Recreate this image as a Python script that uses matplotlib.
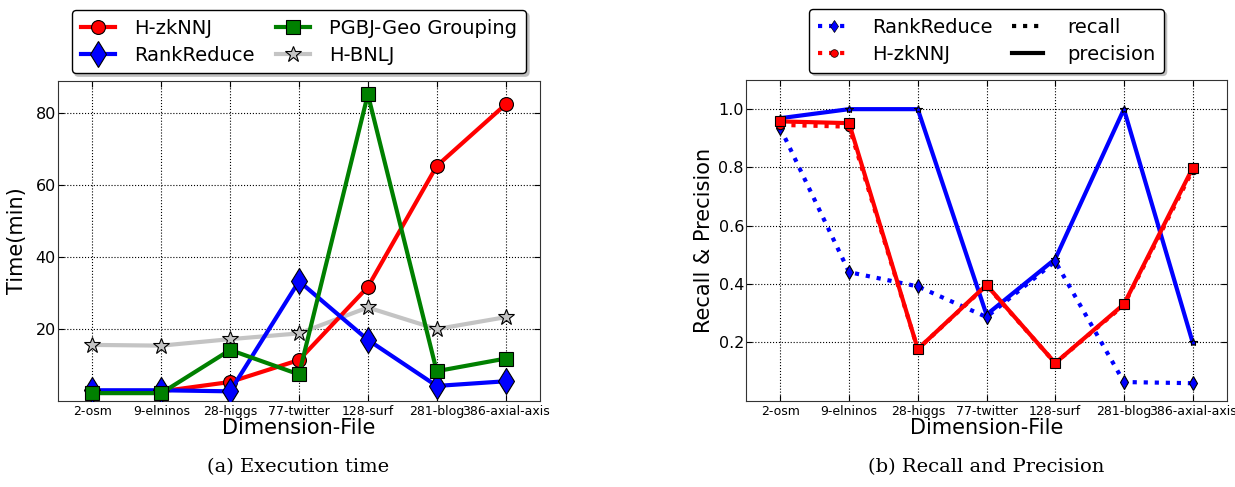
import matplotlib
matplotlib.use("Agg")
import matplotlib.pyplot as plt
from matplotlib.lines import Line2D

categories = ["2-osm", "9-elninos", "28-higgs", "77-twitter", "128-surf", "281-blog", "386-axial-axis"]

# (a) Execution time (min)
time_hzknnj = [2.5, 2.7, 5.3, 11.4, 31.7, 65.3, 82.4]
time_rankreduce = [3.0, 3.0, 2.7, 33.3, 17.0, 4.2, 5.5]
time_pgbj = [2.2, 2.2, 14.2, 7.4, 85.2, 8.3, 11.8]
time_hbnlj = [15.6, 15.4, 17.2, 18.8, 26.0, 20.0, 23.3]

# (b) Recall & Precision
rr_precision = [0.969, 1.0, 1.0, 0.295, 0.486, 1.0, 0.2]
rr_recall = [0.935, 0.441, 0.392, 0.287, 0.478, 0.064, 0.060]
hz_precision = [0.958, 0.952, 0.177, 0.397, 0.129, 0.331, 0.798]
hz_recall = [0.946, 0.940, 0.177, 0.395, 0.129, 0.328, 0.790]

left_yticks = [20, 40, 60, 80]
right_yticks = [0.2, 0.4, 0.6, 0.8, 1.0]

fig = plt.figure(figsize=(12.35, 4.87), dpi=100)
W, H = 1235, 487
ax1 = fig.add_axes([58 / W, 1 - 400.7 / H, (540 - 58) / W, (400.7 - 80.7) / H])
ax2 = fig.add_axes([746 / W, 1 - 400.7 / H, (1227 - 746) / W, (400.7 - 80.0) / H])

x = list(range(len(categories)))

for ax in (ax1, ax2):
    ax.grid(True, color="black", linestyle=":", linewidth=0.8)
    ax.set_axisbelow(True)
    ax.set_xlim(-0.5, 6.5)
    ax.set_xticks(x)
    ax.set_xticklabels(categories, fontsize=9)
    ax.tick_params(axis="y", labelsize=11.5, pad=1.5)
    ax.tick_params(axis="x", pad=3)
    ax.tick_params(top=True, right=True, direction="in", length=4)
    ax.set_xlabel("Dimension-File", fontsize=15, labelpad=0)
    for s in ax.spines.values():
        s.set_color("#333333")

lw = 3
l1, = ax1.plot(x, time_hzknnj, color="red", lw=lw, marker="o", ms=10, mec="black", mew=0.8, label="H-zkNNJ", zorder=3)
l2, = ax1.plot(x, time_rankreduce, color="blue", lw=lw, marker="d", ms=13, mec="black", mew=0.8, label="RankReduce", zorder=4)
l3, = ax1.plot(x, time_pgbj, color="green", lw=lw, marker="s", ms=10.5, mec="black", mew=0.8, label="PGBJ-Geo Grouping", zorder=5)
l4, = ax1.plot(x, time_hbnlj, color="#c4c4c4", lw=lw, marker="*", ms=12, mfc="#c4c4c4", mec="black", mew=0.8, label="H-BNLJ", zorder=2)
ax1.set_ylim(0.1, 89)
ax1.set_yticks(left_yticks)
ax1.set_ylabel("Time(min)", fontsize=15, labelpad=6)
ax1.legend(handles=[l1, l2, l3, l4], ncol=2, loc="lower center", bbox_to_anchor=(0.5, 1.023),
           borderaxespad=0, fontsize=14, shadow={"color": "0.75", "alpha": 1}, fancybox=True, framealpha=1,
           edgecolor="black", columnspacing=1.1, handletextpad=1.0, borderpad=0.45, labelspacing=0.4,
           handlelength=1.75)

ax2.plot(x, rr_precision, color="blue", lw=lw, ls="-", marker="*", ms=6, mfc="blue", mec="black", mew=0.8, zorder=3)
ax2.plot(x, rr_recall, color="blue", lw=lw, ls=":", marker="d", ms=7, mfc="blue", mec="black", mew=0.8, zorder=3)
ax2.plot(x, hz_recall, color="red", lw=lw, ls=":", marker="o", ms=6, mfc="red", mec="black", mew=0.8, zorder=4)
ax2.plot(x, hz_precision, color="red", lw=lw, ls="-", marker="s", ms=7, mfc="red", mec="black", mew=0.8, zorder=5)
ax2.set_ylim(0.0, 1.1)
ax2.set_yticks(right_yticks)
ax2.set_yticklabels(["0.2", "0.4", "0.6", "0.8", "1.0"])
ax2.set_ylabel("Recall & Precision", fontsize=15, labelpad=3.5)

h_rr = Line2D([], [], color="blue", lw=3, ls=":", marker="d", ms=6, mfc="blue", mec="black", mew=0.5)
h_hz = Line2D([], [], color="red", lw=3, ls=":", marker="o", ms=5.5, mfc="red", mec="black", mew=0.5)
h_rec = Line2D([], [], color="black", lw=3, ls=":")
h_pre = Line2D([], [], color="black", lw=3, ls="-")
ax2.legend(handles=[h_rr, h_hz, h_rec, h_pre], labels=["RankReduce", "H-zkNNJ", "recall", "precision"],
           ncol=2, loc="lower center", bbox_to_anchor=(0.5, 1.023), borderaxespad=0, fontsize=14,
           shadow={"color": "0.75", "alpha": 1}, fancybox=True, framealpha=1, edgecolor="black",
           columnspacing=1.0, handletextpad=1.2, borderpad=0.45, labelspacing=0.4, handlelength=1.6)

fig.text(298 / W, 1 - 467 / H, "(a) Execution time", ha="center", va="center", fontsize=14, family="DejaVu Serif")
fig.text(986 / W, 1 - 467 / H, "(b) Recall and Precision", ha="center", va="center", fontsize=14, family="DejaVu Serif")

fig.savefig("out.png", dpi=100)
